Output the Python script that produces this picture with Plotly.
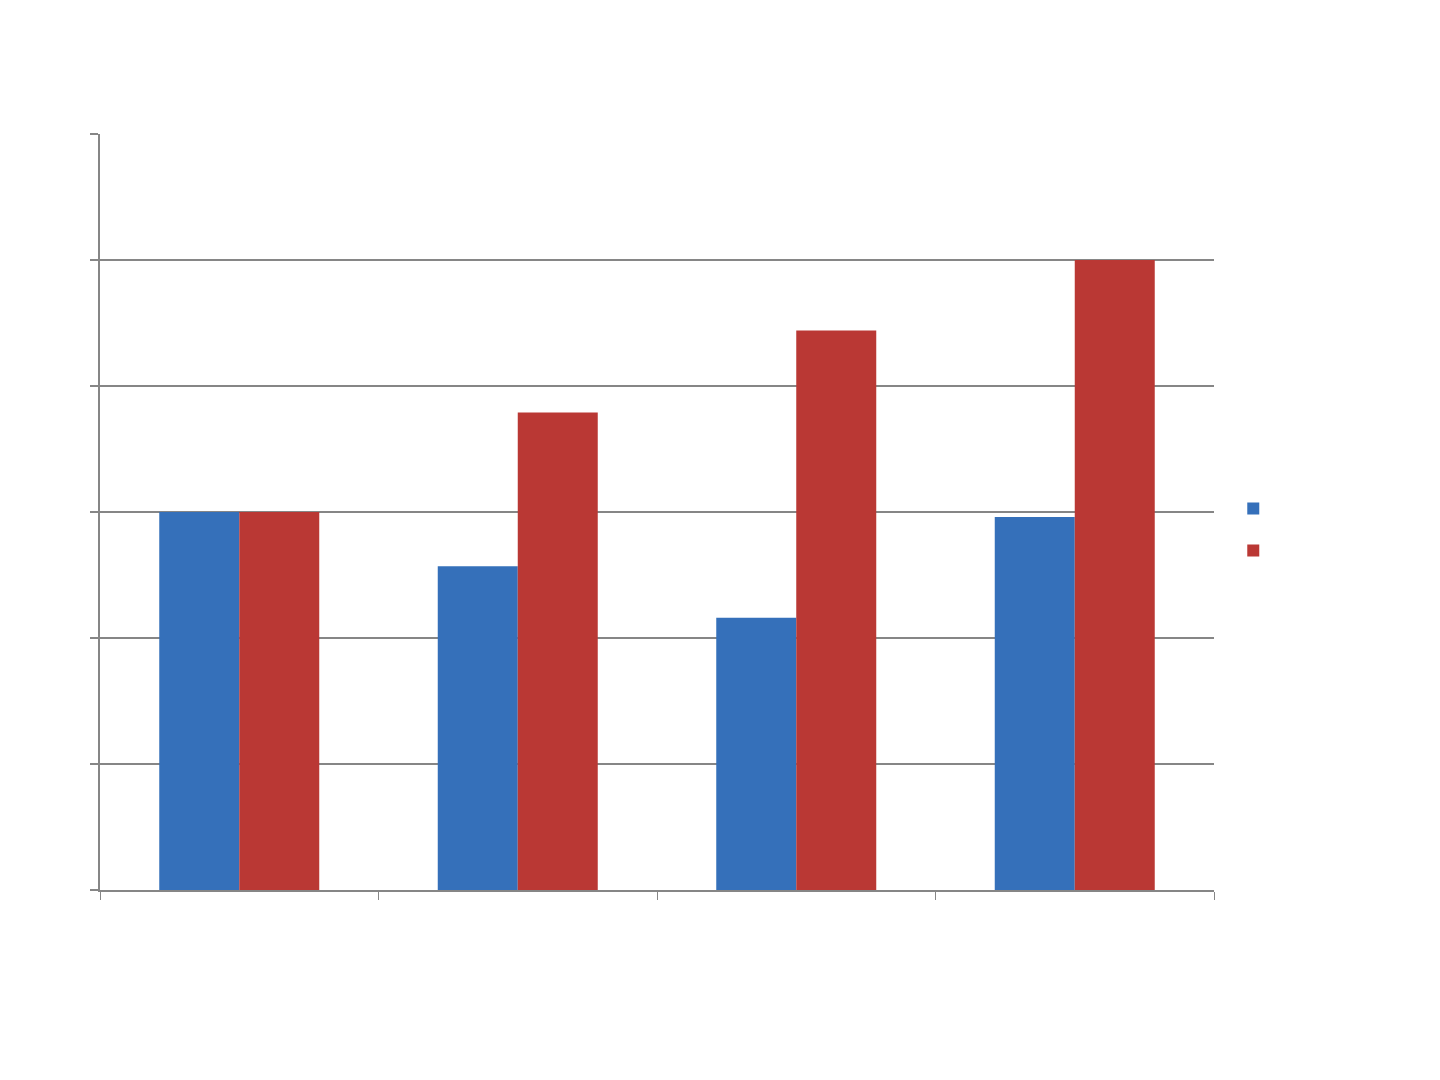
import plotly.graph_objects as go

categories = ["Category 1", "Category 2", "Category 3", "Category 4"]
series1_name = " "
series2_name = " "
series1_values = [3.0, 2.57, 2.16, 2.96]
series2_values = [3.0, 3.79, 4.44, 5.0]

fig = go.Figure()
fig.add_trace(go.Bar(x=categories, y=series1_values, name=series1_name,
                     marker=dict(color="#3570BA", line=dict(width=0))))
fig.add_trace(go.Bar(x=categories, y=series2_values, name=series2_name,
                     marker=dict(color="#BA3834", line=dict(width=0))))

fig.update_layout(
    width=1440, height=1080,
    paper_bgcolor="white", plot_bgcolor="white",
    margin=dict(l=92, r=234, t=126, b=198),
    barmode="group", bargap=0.4255, bargroupgap=0,
    font=dict(family="Liberation Sans"),
    showlegend=True,
    legend=dict(x=1.0173, y=0.477, xanchor="left", yanchor="middle",
                font=dict(size=30, color="white"), traceorder="normal",
                itemwidth=30),
)
fig.update_xaxes(type="category", showticklabels=False, tickson="boundaries",
                 ticks="outside", ticklen=8, tickcolor="#868686", tickwidth=1,
                 showline=True, linecolor="#868686", linewidth=2,
                 showgrid=False, zeroline=False)
fig.update_yaxes(range=[0, 6], dtick=1, showticklabels=False,
                 ticks="outside", ticklen=8, tickcolor="#868686", tickwidth=2,
                 showline=True, linecolor="#868686", linewidth=2,
                 showgrid=True, gridcolor="#868686", gridwidth=1.5, zeroline=False)

fig.write_html("out.html")
